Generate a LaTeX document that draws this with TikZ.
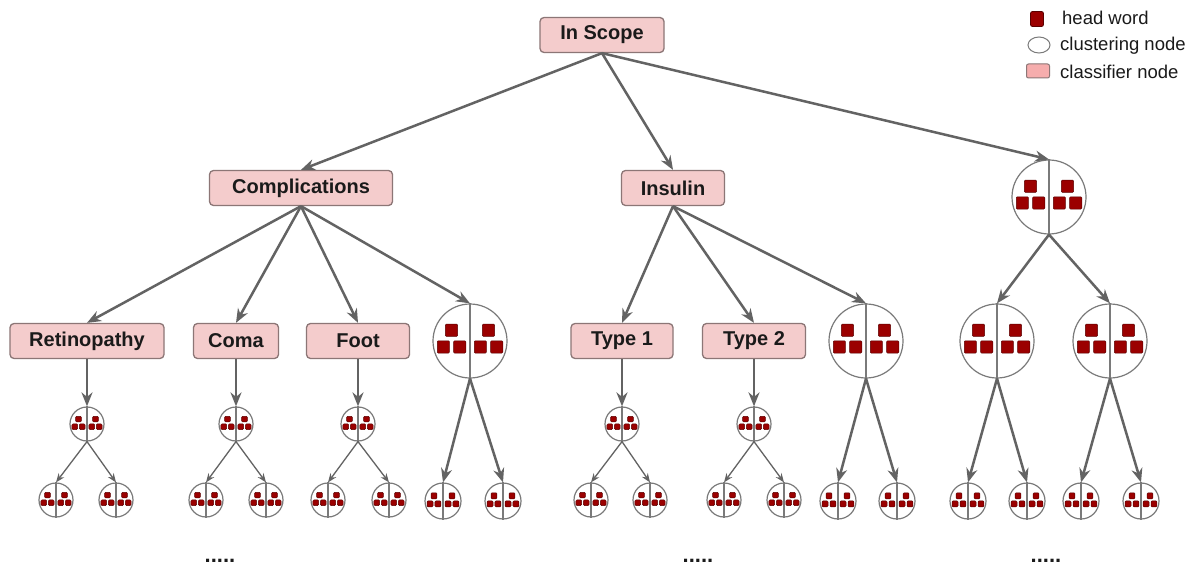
\documentclass[tikz,border=0pt]{standalone}
\usepackage{fontspec}
\setmainfont{Liberation Sans}
\usetikzlibrary{arrows.meta,calc,shapes.geometric}
\definecolor{boxfill}{HTML}{F4CCCC}
\definecolor{boxline}{HTML}{8C7676}
\definecolor{hwfill}{HTML}{9B0000}
\definecolor{hwline}{HTML}{5A0000}
\definecolor{edgecol}{HTML}{636363}
\definecolor{circcol}{HTML}{7A7A7A}
\definecolor{txtcol}{HTML}{1A1A1A}
\tikzset{
  clsbox/.style={draw=boxline, line width=1.3pt, fill=boxfill, rounded corners=4pt,
    minimum height=35pt, inner sep=0pt, text=txtcol,
    font=\bfseries\fontsize{20}{23}\selectfont},
  clnode/.style={draw=circcol, line width=1.2pt, fill=white, circle, inner sep=0pt},
  divider/.style={draw=circcol, line width=1.2pt},
  hw/.style={draw=hwline, line width=0.5pt, fill=hwfill, rounded corners=1pt, inner sep=0pt},
  thickedge/.style={draw=edgecol, line width=2.5pt, -{Stealth[length=14pt,width=11pt]}},
  thinedge/.style={draw=edgecol, line width=1.3pt, -{Stealth[length=9pt,width=7pt]}},
  legtext/.style={anchor=west, text=txtcol, font=\fontsize{18.5}{21}\selectfont, inner sep=0pt},
  dots/.style={text=txtcol, font=\bfseries\fontsize{22}{24}\selectfont, inner sep=0pt}
}
\newcommand{\clus}[4]{%
  \node[clnode, minimum size={2*#4 pt}] (#1) at (#2,#3) {};
  \draw[divider] (#1.north) -- (#1.south);
  \foreach \qx/\qy in {-0.5/-0.29,-0.72/0.16,-0.28/0.16,0.5/-0.29,0.28/0.16,0.72/0.16}
    \node[hw, minimum size={0.33*#4 pt}] at ($(#1)+(\qx*#4,\qy*#4)$) {};
}
\begin{document}
\begin{tikzpicture}[x=1pt,y=-1pt]
\useasboundingbox[fill=white] (0,0) rectangle (1194,572);
% classifier nodes
\node[clsbox, minimum width=124pt] (insc) at (602,35) {In Scope};
\node[clsbox, minimum width=183pt] (comp) at (301,188) {Complications};
\node[clsbox, minimum width=103pt] (insu) at (673,188) {Insulin};
\node[clsbox, minimum width=154pt] (reti) at (87,341) {Retinopathy};
\node[clsbox, minimum width=85pt] (coma) at (236,341) {Coma};
\node[clsbox, minimum width=103pt] (foot) at (358,341) {Foot};
\node[clsbox, minimum width=102pt] (typa) at (622,341) {Type 1};
\node[clsbox, minimum width=103pt] (typb) at (754,341) {Type 2};
% big clustering nodes
\clus{ctop}{1049}{197}{37}
\clus{cc}{470}{341}{37}
\clus{ci}{866}{341}{37}
\clus{cl}{997}{341}{37}
\clus{cr}{1110}{341}{37}
% level 4 small clusters
\clus{s1}{87}{424}{17}
\clus{s2}{236}{424}{17}
\clus{s3}{358}{424}{17}
\clus{s4}{622}{424}{17}
\clus{s5}{754}{424}{17}
% level 5
\clus{a1}{56}{500}{17}
\clus{a2}{116}{500}{17}
\clus{b1}{206}{500}{17}
\clus{b2}{266}{500}{17}
\clus{d1}{328}{500}{17}
\clus{d2}{389}{500}{17}
\clus{e1}{443}{501}{18}
\clus{e2}{503}{501}{18}
\clus{f1}{591}{500}{17}
\clus{f2}{650}{500}{17}
\clus{g1}{724}{500}{17}
\clus{g2}{784}{500}{17}
\clus{h1}{838}{501}{18}
\clus{h2}{897}{501}{18}
\clus{k1}{968}{501}{18}
\clus{k2}{1027}{501}{18}
\clus{m1}{1081}{501}{18}
\clus{m2}{1141}{501}{18}
% edges
\draw[thickedge] (insc.south) -- (comp.north);
\draw[thickedge] (insc.south) -- (insu.north);
\draw[thickedge] (insc.south) -- (ctop.north);
\draw[thickedge] (comp.south) -- (reti.north);
\draw[thickedge] (comp.south) -- (coma.north);
\draw[thickedge] (comp.south) -- (foot.north);
\draw[thickedge] (comp.south) -- (cc.north);
\draw[thickedge] (insu.south) -- (typa.north);
\draw[thickedge] (insu.south) -- (typb.north);
\draw[thickedge] (insu.south) -- (ci.north);
\draw[thickedge] (ctop.south) -- (cl.north);
\draw[thickedge] (ctop.south) -- (cr.north);
\draw[thickedge] (reti.south) -- (s1.north);
\draw[thickedge] (coma.south) -- (s2.north);
\draw[thickedge] (foot.south) -- (s3.north);
\draw[thickedge] (typa.south) -- (s4.north);
\draw[thickedge] (typb.south) -- (s5.north);
\draw[thinedge] (s1.south) -- (a1.north);
\draw[thinedge] (s1.south) -- (a2.north);
\draw[thinedge] (s2.south) -- (b1.north);
\draw[thinedge] (s2.south) -- (b2.north);
\draw[thinedge] (s3.south) -- (d1.north);
\draw[thinedge] (s3.south) -- (d2.north);
\draw[thinedge] (s4.south) -- (f1.north);
\draw[thinedge] (s4.south) -- (f2.north);
\draw[thinedge] (s5.south) -- (g1.north);
\draw[thinedge] (s5.south) -- (g2.north);
\draw[thickedge] (cc.south) -- (e1.north);
\draw[thickedge] (cc.south) -- (e2.north);
\draw[thickedge] (ci.south) -- (h1.north);
\draw[thickedge] (ci.south) -- (h2.north);
\draw[thickedge] (cl.south) -- (k1.north);
\draw[thickedge] (cl.south) -- (k2.north);
\draw[thickedge] (cr.south) -- (m1.north);
\draw[thickedge] (cr.south) -- (m2.north);
% dots
\node[dots] (dt1) at (220,561) {.....};
\node[dots] (dt2) at (698,561) {.....};
\node[dots] (dt3) at (1046,561) {.....};
% legend
\node[hw, minimum width=13pt, minimum height=15pt, line width=0.8pt, rounded corners=2pt] (lhw) at (1037,19) {};
\node[draw=circcol, line width=1pt, ellipse, minimum width=22pt, minimum height=16pt, inner sep=0pt] (lcl) at (1039,45) {};
\node[draw=boxline, fill=boxfill!85!red, line width=1pt, rounded corners=2pt, minimum width=23pt, minimum height=14pt, inner sep=0pt] (lcs) at (1038,71) {};
\node[legtext] (t1) at (1062,18) {head word};
\node[legtext] (t2) at (1060,46) {clustering node};
\node[legtext] (t3) at (1060,72) {classifier node};
\end{tikzpicture}
\end{document}
